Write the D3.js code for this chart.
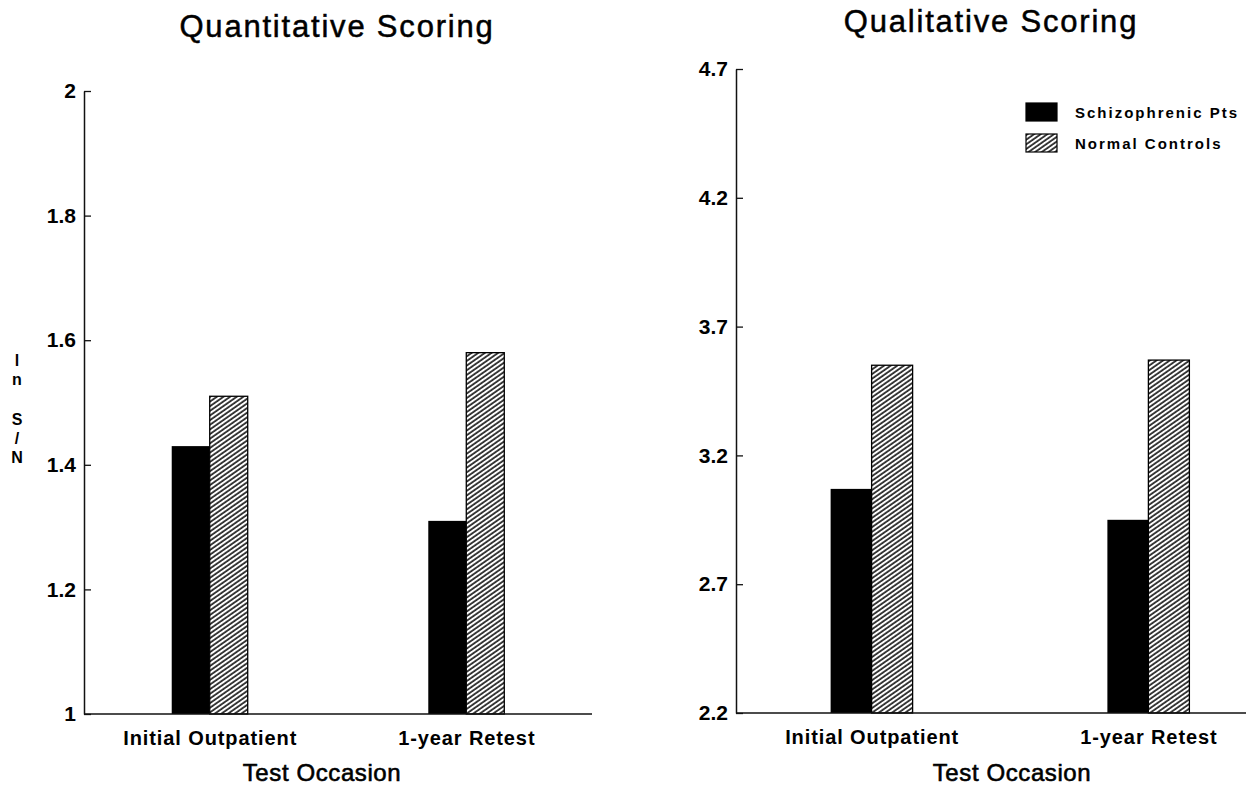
<!DOCTYPE html>
<html>
<head>
<meta charset="utf-8">
<script src="https://cdn.jsdelivr.net/npm/d3@7/dist/d3.min.js"></script>
<style>
  html, body { margin: 0; padding: 0; background: #fff; }
  svg { display: block; font-family: "Liberation Sans", Arial, Helvetica, sans-serif; }
</style>
</head>
<body>
<svg id="chart" width="1254" height="786"></svg>
<script>
// ---- data ----
const categories = ["Initial Outpatient", "1-year Retest"];
const seriesNames = ["Schizophrenic Pts", "Normal Controls"];
const quantSchizo = [1.43, 1.31];
const quantNormal = [1.51, 1.58];
const qualSchizo = [3.07, 2.95];
const qualNormal = [3.55, 3.57];
const quantTicks = [1, 1.2, 1.4, 1.6, 1.8, 2];
const qualTicks = [2.2, 2.7, 3.2, 3.7, 4.2, 4.7];
const titles = ["Quantitative Scoring", "Qualitative Scoring"];
const xTitle = "Test Occasion";
const yLabelChars = ["l", "n", "S", "/", "N"];

const svg = d3.select("#chart");

// hatch pattern
const defs = svg.append("defs");
const pat = defs.append("pattern")
  .attr("id", "hatch")
  .attr("patternUnits", "userSpaceOnUse")
  .attr("width", 3.8).attr("height", 10)
  .attr("patternTransform", "rotate(55)");
pat.append("rect").attr("width", 3.8).attr("height", 10).attr("fill", "#fff");
pat.append("line").attr("x1", 1).attr("x2", 1).attr("y1", 0).attr("y2", 10)
  .attr("stroke", "#000").attr("stroke-width", 1.5);

const panels = [
  { title: titles[0], schizo: quantSchizo, normal: quantNormal, ticks: quantTicks,
    axisX: 84, xEnd: 592, yTop: 91, yBottom: 714, barW: 38, xRange: [84, 592],
    titleX: 337, titleY: 37, xTitleX: 322 },
  { title: titles[1], schizo: qualSchizo, normal: qualNormal, ticks: qualTicks,
    axisX: 736, xEnd: 1246, yTop: 69, yBottom: 713, barW: 41, xRange: [736, 1284],
    titleX: 991, titleY: 32, xTitleX: 1012 }
];

panels.forEach(p => {
  const g = svg.append("g");
  const y = d3.scaleLinear()
    .domain([p.ticks[0], p.ticks[p.ticks.length - 1]])
    .range([p.yBottom, p.yTop]);
  const x = d3.scalePoint().domain(categories).range(p.xRange).padding(0.49);

  // bars
  const rows = categories.map((c, i) => ({ c, s: p.schizo[i], n: p.normal[i] }));
  g.selectAll("rect.s").data(rows).enter().append("rect")
    .attr("class", "s")
    .attr("x", d => x(d.c) - p.barW)
    .attr("y", d => y(d.s))
    .attr("width", p.barW)
    .attr("height", d => y.range()[0] - y(d.s))
    .attr("fill", "#000");
  g.selectAll("rect.n").data(rows).enter().append("rect")
    .attr("class", "n")
    .attr("x", d => x(d.c))
    .attr("y", d => y(d.n))
    .attr("width", p.barW)
    .attr("height", d => y.range()[0] - y(d.n))
    .attr("fill", "url(#hatch)")
    .attr("stroke", "#000")
    .attr("stroke-width", 1.3);

  // y axis
  const yAxis = d3.axisLeft(y)
    .tickValues(p.ticks)
    .tickFormat(d => String(d))
    .tickSizeInner(-7)
    .tickSizeOuter(0)
    .tickPadding(8);
  const ya = g.append("g").attr("transform", `translate(${p.axisX},0)`).call(yAxis);
  ya.select(".domain").attr("stroke", "#111").attr("stroke-width", 1.5);
  ya.selectAll(".tick line").attr("stroke", "#111").attr("stroke-width", 1.3);
  ya.selectAll(".tick text")
    .attr("font-size", 21).attr("font-weight", "bold").attr("fill", "#000")
    .attr("font-family", "'Liberation Sans', Arial, sans-serif");

  // x axis (labels only) + baseline
  const xAxis = d3.axisBottom(x).tickSize(0).tickPadding(17);
  const xa = g.append("g").attr("transform", `translate(0,${p.yBottom})`).call(xAxis);
  xa.select(".domain").remove();
  xa.selectAll(".tick text")
    .attr("font-size", 20).attr("font-weight", "bold").attr("fill", "#000")
    .attr("letter-spacing", "0.9px")
    .attr("font-family", "'Liberation Sans', Arial, sans-serif");
  g.append("line")
    .attr("x1", p.axisX).attr("x2", p.xEnd)
    .attr("y1", p.yBottom).attr("y2", p.yBottom)
    .attr("stroke", "#111").attr("stroke-width", 1.6);

  // titles
  g.append("text")
    .attr("x", p.titleX).attr("y", p.titleY)
    .attr("text-anchor", "middle")
    .attr("font-size", 31).attr("letter-spacing", "1.8px")
    .attr("stroke", "#000").attr("stroke-width", 0.5)
    .attr("fill", "#000")
    .text(p.title);
  g.append("text")
    .attr("x", p.xTitleX).attr("y", 781)
    .attr("text-anchor", "middle")
    .attr("font-size", 24).attr("letter-spacing", "0.6px")
    .attr("stroke", "#000").attr("stroke-width", 0.6)
    .attr("fill", "#000")
    .text(xTitle);
});

// y label (stacked letters)
const yLabelY = [366, 385, 425, 444, 463];
const yl = svg.append("text")
  .attr("text-anchor", "middle")
  .attr("font-size", 16).attr("font-weight", "bold").attr("fill", "#000");
yLabelChars.forEach((ch, i) => {
  yl.append("tspan").attr("x", 17).attr("y", yLabelY[i]).text(ch);
});

// legend
const legend = svg.append("g").attr("transform", "translate(1026,103)");
seriesNames.forEach((name, i) => {
  const row = legend.append("g").attr("transform", `translate(0,${i * 31})`);
  row.append("rect")
    .attr("width", 31).attr("height", 18)
    .attr("fill", i === 0 ? "#000" : "url(#hatch)")
    .attr("stroke", "#000").attr("stroke-width", 1.2);
  row.append("text")
    .attr("x", 49).attr("y", 15)
    .attr("font-size", 15).attr("font-weight", "bold")
    .attr("letter-spacing", "2px")
    .attr("fill", "#000")
    .text(name);
});
</script>
</body>
</html>
